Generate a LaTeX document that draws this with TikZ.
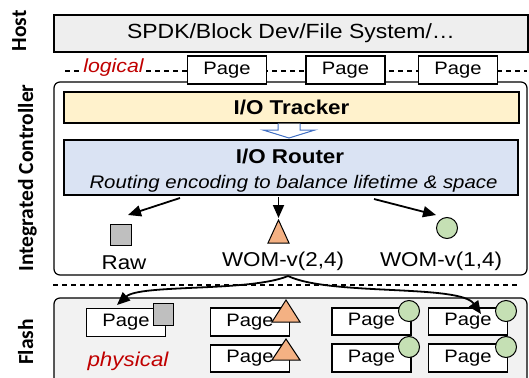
\documentclass[tikz,border=0pt]{standalone}
\usepackage{fontspec}
\setmainfont[FakeStretch=1.12]{Liberation Sans}
\newfontfamily\sidefont{Carlito}
\usetikzlibrary{arrows.meta}

\definecolor{hostfill}{HTML}{EEEEEE}
\definecolor{flashfill}{HTML}{F2F2F2}
\definecolor{trackfill}{HTML}{FFF2CC}
\definecolor{routefill}{HTML}{DAE3F3}
\definecolor{rawfill}{HTML}{BFBFBF}
\definecolor{womA}{HTML}{F4B183}
\definecolor{womB}{HTML}{C5E0B4}
\definecolor{hintred}{HTML}{C00000}
\definecolor{flowblue}{HTML}{4472C4}

\newcommand{\fs}[1]{\fontsize{#1}{#1}\selectfont}

\tikzset{
  box/.style={draw, line width=1.2pt, inner sep=0pt, anchor=center},
  pagebox/.style={box, fill=white, minimum width=79pt, minimum height=28pt, font=\fs{18}},
  region/.style={draw, line width=1.2pt, rounded corners=6pt},
  sidelabel/.style={rotate=90, anchor=base, font=\sidefont\bfseries\fs{21.5}},
  arr/.style={line width=1.8pt, -{Triangle[length=13pt,width=11pt]}},
  sep/.style={line width=1.1pt, dash pattern=on 5pt off 4pt},
  rawsq/.style={draw, line width=1pt, fill=rawfill},
  tri/.style={draw, line width=1pt, fill=womA, line join=miter},
  dot/.style={draw, line width=1pt, fill=womB, circle, inner sep=0pt, minimum size=21pt},
  lbl/.style={anchor=base, font=\fs{20}},
}

\begin{document}
\begin{tikzpicture}[x=1pt, y=-1pt]
\useasboundingbox (0,0) rectangle (529,377);

% side labels
\node[sidelabel] (hostlbl) at (26,31) {Host};
\node[sidelabel] (ctrllbl) at (33,178) {Integrated Controller};
\node[sidelabel] (flashlbl) at (33,342) {Flash};

% host layer
\node[box, fill=hostfill, minimum width=474pt, minimum height=37pt, font=\fs{20.5}] (host) at (291,33.5) {SPDK/Block Dev/File System/\char"2026};

% controller region
\draw[region] (54,82) rectangle (527,275);

% logical separator with pages
\coordinate (logL) at (65,71);
\coordinate (logR) at (527,71);
\draw[sep] (logL) -- (logR);
\node[fill=white, inner sep=1pt, font=\itshape\fs{19}, text=hintred] (logical) at (113.5,68) {logical};
\node[pagebox] (lp1) at (227,70) {Page};
\node[pagebox] (lp2) at (345.5,70) {Page};
\node[pagebox] (lp3) at (458,70) {Page};

% tracker and router
\node[box, fill=trackfill, minimum width=455pt, minimum height=31pt, font=\bfseries\fs{20}] (tracker) at (291.5,107.5) {I/O Tracker};
\node[box, fill=routefill, minimum width=454pt, minimum height=55pt] (router) at (291,167.5) {};
\node[anchor=base, font=\bfseries\fs{20}] (routertitle) at (290,163.5) {I/O Router};
\node[anchor=base, font=\itshape\fs{18.2}] (routernote) at (293.5,188) {Routing encoding to balance lifetime \& space};

% hollow flow arrow between tracker and router
\draw[flowblue, line width=1pt, fill=white, line join=miter]
  (278,123.5) -- (278,130) -- (263,130) -- (289,138) -- (315,130) -- (300,130) -- (300,123.5);

% encodings
\node[rawsq, minimum size=21pt, inner sep=0pt] (raw) at (120.5,235) {};
\draw[tri] (268,243) -- (278.5,220) -- (289,243) -- cycle;
\coordinate (womAtop) at (278.5,218);
\node[dot] (womBdot) at (447,228) {};

\node[lbl] (rawlbl) at (124,269) {Raw};
\node[lbl] (womAlbl) at (283,266.5) {WOM-v(2,4)};
\node[lbl] (womBlbl) at (441,266.5) {WOM-v(1,4)};

% routing arrows
\coordinate (rA) at (180,198);
\coordinate (rAend) at (128,215);
\coordinate (rB) at (278.5,197);
\coordinate (rC) at (374,199);
\coordinate (rCend) at (436,215);
\draw[arr] (rA) -- (rAend);
\draw[arr] (rB) -- (womAtop);
\draw[arr] (rC) -- (rCend);

% physical separator
\coordinate (physL) at (53,285);
\coordinate (physR) at (518,285);
\draw[sep] (physL) -- (physR);

% flash region
\draw[region, fill=flashfill] (54,392) -- (54,298) -- (527,298) -- (527,392);

% flash pages
\node[pagebox] (fp1) at (126,322.5) {Page};
\node[rawsq, minimum width=20pt, minimum height=22pt, inner sep=0pt] (fraw) at (163,314) {};

\node[pagebox, minimum height=28pt] (fp2) at (250,322) {Page};
\node[pagebox, minimum height=27pt] (fp3) at (250,358.5) {Page};
\draw[tri] (272,322) -- (286,300) -- (300,322) -- cycle;
\draw[tri] (272,360) -- (286,339) -- (300,360) -- cycle;

\node[pagebox, minimum height=27pt] (fp4) at (371.5,321.5) {Page};
\node[pagebox, minimum height=28pt] (fp5) at (371.5,358) {Page};
\node[dot] (fc1) at (409,311) {};
\node[dot] (fc2) at (409,347) {};

\node[pagebox, minimum height=27pt] (fp6) at (468,321.5) {Page};
\node[pagebox, minimum height=28pt] (fp7) at (468,358) {Page};
\node[dot] (fc3) at (506,311) {};
\node[dot] (fc4) at (506,347) {};

\node[font=\itshape\fs{20}, text=hintred, anchor=base] (physical) at (128,366) {physical};

% WOM-v(2,4) placement arrows into flash
\coordinate (fork) at (288,276);
\coordinate (fp1in) at (117,305);
\coordinate (fp6in) at (481,314);
\draw[arr] (fork) .. controls (250,292) and (140,284) .. (fp1in);
\draw[arr] (fork) .. controls (330,296) and (460,284) .. (fp6in);

\end{tikzpicture}
\end{document}
